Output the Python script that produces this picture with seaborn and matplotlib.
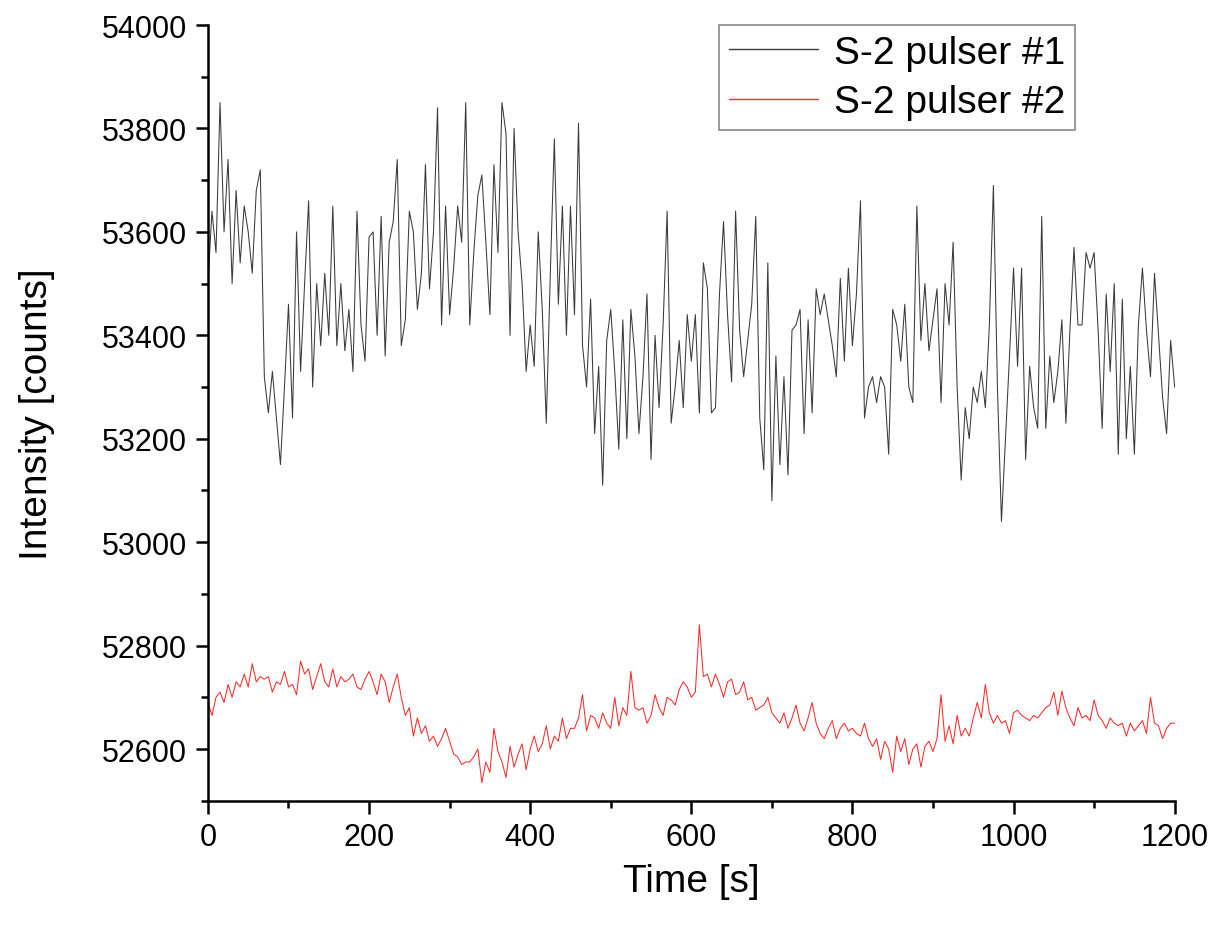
import numpy as np
import pandas as pd
import matplotlib
matplotlib.use("Agg")
import matplotlib.pyplot as plt
from matplotlib.ticker import MultipleLocator
import seaborn as sns

# time axis, one reading every 5 s
time_s = list(range(0, 1205, 5))

# S-2 pulser #1 intensity [counts]
pulser1 = [
    53500, 53640, 53560, 53850, 53600, 53740, 53500, 53680, 53540, 53650,
    53600, 53520, 53680, 53720, 53320, 53250, 53330, 53240, 53150, 53300,
    53460, 53240, 53600, 53330, 53500, 53660, 53300, 53500, 53380, 53520,
    53400, 53650, 53380, 53500, 53370, 53450, 53330, 53640, 53420, 53350,
    53590, 53600, 53400, 53630, 53360, 53580, 53620, 53740, 53380, 53430,
    53640, 53600, 53450, 53520, 53730, 53490, 53600, 53840, 53420, 53650,
    53440, 53530, 53650, 53580, 53850, 53420, 53560, 53670, 53710, 53580,
    53440, 53730, 53560, 53850, 53790, 53400, 53800, 53600, 53500, 53330,
    53420, 53340, 53600, 53450, 53230, 53520, 53780, 53460, 53650, 53400,
    53650, 53440, 53810, 53380, 53300, 53470, 53210, 53340, 53110, 53390,
    53450, 53330, 53180, 53430, 53200, 53450, 53360, 53210, 53320, 53480,
    53160, 53400, 53260, 53420, 53640, 53230, 53300, 53390, 53260, 53440,
    53350, 53440, 53250, 53540, 53490, 53250, 53260, 53480, 53620, 53440,
    53310, 53640, 53410, 53320, 53390, 53460, 53630, 53240, 53140, 53540,
    53080, 53360, 53150, 53320, 53130, 53410, 53420, 53450, 53210, 53430,
    53250, 53490, 53440, 53480, 53430, 53380, 53320, 53510, 53350, 53530,
    53380, 53480, 53660, 53240, 53300, 53320, 53270, 53320, 53300, 53170,
    53450, 53420, 53350, 53460, 53300, 53270, 53650, 53390, 53500, 53370,
    53430, 53490, 53270, 53500, 53420, 53580, 53300, 53120, 53260, 53200,
    53300, 53270, 53330, 53260, 53420, 53690, 53300, 53040, 53200, 53360,
    53530, 53340, 53530, 53160, 53340, 53260, 53220, 53630, 53220, 53360,
    53270, 53330, 53430, 53230, 53410, 53570, 53420, 53420, 53560, 53530,
    53560, 53410, 53220, 53480, 53330, 53500, 53170, 53470, 53200, 53340,
    53170, 53420, 53530, 53410, 53320, 53520, 53400, 53280, 53210, 53390,
    53300,
]

# S-2 pulser #2 intensity [counts]
pulser2 = [
    52690, 52665, 52700, 52710, 52690, 52725, 52700, 52730, 52720, 52745,
    52720, 52765, 52730, 52740, 52735, 52740, 52710, 52730, 52725, 52750,
    52720, 52725, 52705, 52770, 52745, 52755, 52715, 52740, 52765, 52730,
    52720, 52755, 52720, 52740, 52730, 52735, 52745, 52720, 52715, 52735,
    52750, 52730, 52705, 52745, 52730, 52690, 52720, 52745, 52700, 52665,
    52680, 52625, 52660, 52630, 52645, 52615, 52625, 52605, 52620, 52640,
    52615, 52590, 52585, 52570, 52575, 52575, 52585, 52600, 52535, 52575,
    52555, 52640, 52595, 52575, 52545, 52605, 52565, 52590, 52610, 52560,
    52600, 52625, 52595, 52610, 52645, 52600, 52625, 52615, 52660, 52620,
    52640, 52640, 52660, 52705, 52635, 52665, 52660, 52640, 52670, 52650,
    52640, 52700, 52645, 52680, 52665, 52750, 52680, 52675, 52680, 52650,
    52665, 52705, 52680, 52665, 52700, 52695, 52685, 52715, 52730, 52720,
    52700, 52710, 52840, 52740, 52745, 52720, 52745, 52725, 52700, 52730,
    52735, 52705, 52710, 52730, 52695, 52700, 52675, 52680, 52685, 52700,
    52670, 52660, 52650, 52670, 52640, 52660, 52685, 52650, 52635, 52660,
    52690, 52650, 52630, 52620, 52640, 52655, 52620, 52640, 52650, 52635,
    52640, 52630, 52625, 52650, 52620, 52605, 52620, 52580, 52615, 52600,
    52555, 52625, 52595, 52620, 52570, 52600, 52610, 52565, 52605, 52615,
    52595, 52620, 52705, 52615, 52645, 52610, 52665, 52625, 52640, 52625,
    52660, 52690, 52660, 52725, 52670, 52650, 52665, 52650, 52655, 52630,
    52670, 52675, 52665, 52660, 52655, 52665, 52660, 52670, 52680, 52685,
    52710, 52665, 52712, 52680, 52660, 52645, 52680, 52660, 52665, 52655,
    52695, 52665, 52655, 52640, 52660, 52650, 52645, 52650, 52625, 52650,
    52635, 52645, 52655, 52630, 52700, 52650, 52645, 52620, 52640, 52650,
    52650,
]

labels = ["S-2 pulser #1", "S-2 pulser #2"]

sns.set_style("ticks")
plt.rcParams['font.family'] = ['Liberation Sans', 'DejaVu Sans']
plt.rcParams['text.color'] = 'black'
plt.rcParams['axes.labelcolor'] = 'black'
plt.rcParams['xtick.color'] = 'black'
plt.rcParams['ytick.color'] = 'black'

df = pd.DataFrame({
    'Time': time_s * 2,
    'Intensity': pulser1 + pulser2,
    'Series': [labels[0]] * len(pulser1) + [labels[1]] * len(pulser2),
})

fig = plt.figure(figsize=(12.16, 9.29), dpi=100)
ax = fig.add_axes([0.171, 0.137, 0.795, 0.835])

sns.lineplot(data=df, x='Time', y='Intensity', hue='Series',
             palette=['#3a3a3a', '#ff2a2a'], linewidth=0.75, ax=ax)

ax.set_xlim(0, 1200)
ax.set_ylim(52500, 54000)
ax.xaxis.set_major_locator(MultipleLocator(200))
ax.xaxis.set_minor_locator(MultipleLocator(100))
ax.yaxis.set_major_locator(MultipleLocator(200))
ax.yaxis.set_minor_locator(MultipleLocator(100))

ax.tick_params(which='major', direction='out', length=9, width=1.8,
               labelsize=22, pad=6, color='black', labelcolor='black')
ax.tick_params(which='minor', direction='out', length=5, width=1.8, color='black')
sns.despine(ax=ax)
for side in ['left', 'bottom']:
    ax.spines[side].set_linewidth(1.8)
    ax.spines[side].set_color('black')

ax.set_xlabel('Time [s]', fontsize=28, labelpad=8, color='black')
ax.set_ylabel('Intensity [counts]', fontsize=28, labelpad=34, color='black')

leg = ax.legend(loc='upper right', bbox_to_anchor=(0.897, 1.0), borderaxespad=0,
                fontsize=28, handlelength=2.3, handletextpad=0.4,
                labelspacing=0.35, borderpad=0.25, fancybox=False, framealpha=1)
leg.get_frame().set_edgecolor('#888888')
leg.get_frame().set_linewidth(1.2)
for text in leg.get_texts():
    text.set_color('black')
for line in leg.get_lines():
    line.set_linewidth(1.0)

plt.savefig('out.png', dpi=100)
plt.close()
